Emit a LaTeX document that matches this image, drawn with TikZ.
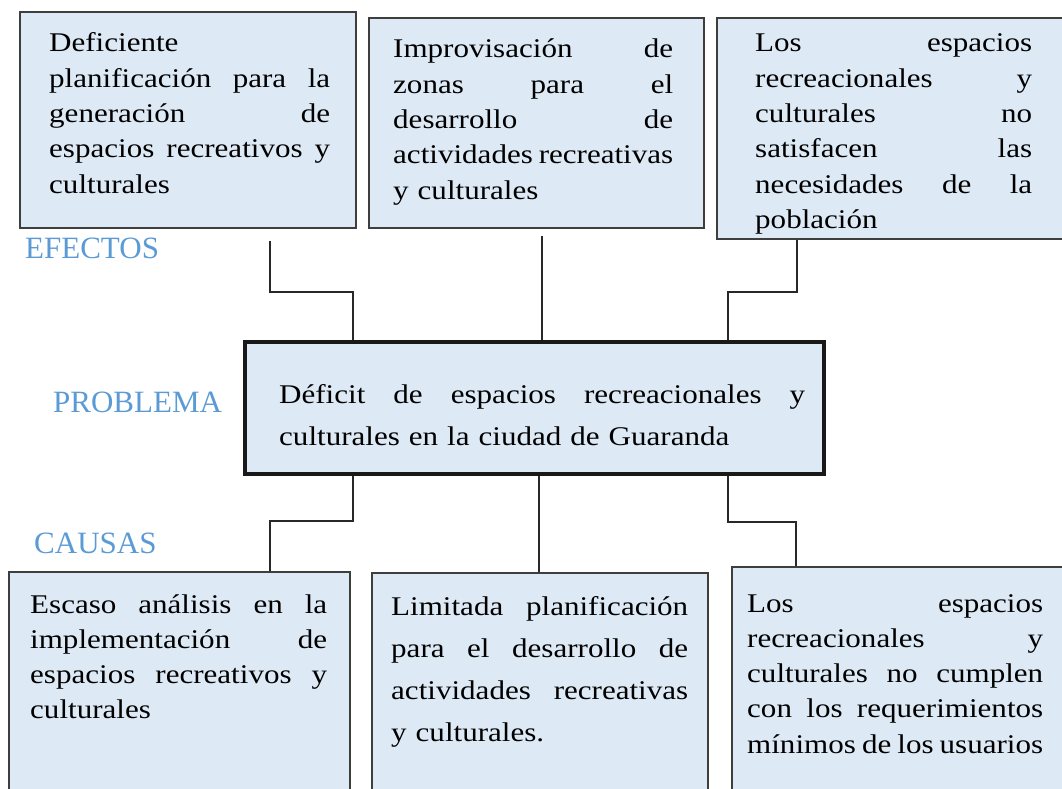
\documentclass[tikz,border=0pt]{standalone}
\usepackage{fontspec}
\setmainfont{Liberation Serif}
\newfontfamily\bfont[FakeStretch=1.15]{Liberation Serif}
\usetikzlibrary{calc}
\definecolor{boxfill}{RGB}{221,233,245}
\definecolor{boxline}{RGB}{62,62,62}
\definecolor{probline}{RGB}{25,25,25}
\definecolor{connline}{RGB}{40,40,40}
\definecolor{lblblue}{RGB}{91,155,213}
\newcommand\jl[1]{\makebox[\linewidth][s]{#1}}
\tikzset{
  ebox/.style={draw=boxline, line width=2.5pt, fill=boxfill, inner sep=0pt},
  pbox/.style={draw=probline, line width=3.2pt, fill=boxfill, inner sep=0pt},
  txt/.style={anchor=base west, inner sep=0pt, align=left},
  tfont/.style={font=\bfont\fontsize{27}{35.3}\selectfont},
  tfontw/.style={font=\bfont\fontsize{27}{42}\selectfont},
  lbl/.style={anchor=base west, inner sep=0pt, text=lblblue, font=\fontsize{31}{36}\selectfont},
  conn/.style={draw=connline, line width=1.5pt}
}
\begin{document}
\begin{tikzpicture}[x=1pt,y=-1pt]
\useasboundingbox (0,0) rectangle (1062,789);
\clip (0,0) rectangle (1062,789);
\fill[white] (0,0) rectangle (1062,789);

% effect boxes
\node[ebox, minimum width=336pt, minimum height=216pt] (E1) at (188,120) {};
\node[ebox, minimum width=335pt, minimum height=210pt] (E2) at (536.5,123) {};
\node[ebox, minimum width=358pt, minimum height=221pt] (E3) at (896,128.5) {};
% problem box
\node[pbox, minimum width=579pt, minimum height=132pt] (P) at (534.5,408) {};
% cause boxes
\node[ebox, minimum width=341pt, minimum height=228pt] (C1) at (179.5,686) {};
\node[ebox, minimum width=336pt, minimum height=227pt] (C2) at (540,686.5) {};
\node[ebox, minimum width=343pt, minimum height=233pt] (C3) at (903.5,683.5) {};

% texts
\node[txt, tfont, text width=281pt] (E1t) at (49,52) {Deficiente\\
\jl{planificación\hfill para\hfill la}\\
\jl{generación\hfill de}\\
\jl{espacios\hfill recreativos\hfill y}\\
culturales};
\node[txt, tfont, text width=280pt] (E2t) at (393,58) {\jl{Improvisación\hfill de}\\
\jl{zonas\hfill para\hfill el}\\
\jl{desarrollo\hfill de}\\
\jl{actividades\hfill recreativas}\\
y culturales};
\node[txt, tfont, text width=277pt] (E3t) at (755,52) {\jl{Los\hfill espacios}\\
\jl{recreacionales\hfill y}\\
\jl{culturales\hfill no}\\
\jl{satisfacen\hfill las}\\
\jl{necesidades\hfill de\hfill la}\\
población};
\node[txt, tfontw, text width=526pt] (Pt) at (279,403) {\jl{Déficit\hfill de\hfill espacios\hfill recreacionales\hfill y}\\
culturales en la ciudad de Guaranda};
\node[txt, tfont, text width=297pt] (C1t) at (30,613) {\jl{Escaso\hfill análisis\hfill en\hfill la}\\
\jl{implementación\hfill de}\\
\jl{espacios\hfill recreativos\hfill y}\\
culturales};
\node[txt, tfontw, text width=297pt] (C2t) at (391,615) {\jl{Limitada\hfill planificación}\\
\jl{para\hfill el\hfill desarrollo\hfill de}\\
\jl{actividades\hfill recreativas}\\
y culturales.};
\node[txt, tfont, text width=296pt] (C3t) at (747,612) {\jl{Los\hfill espacios}\\
\jl{recreacionales\hfill y}\\
\jl{culturales\hfill no\hfill cumplen}\\
\jl{con\hfill los\hfill requerimientos}\\
\jl{mínimos\hfill de\hfill los\hfill usuarios}};

% labels
\node[lbl] (EF) at (25,258) {EFECTOS};
\node[lbl] (PR) at (53,412) {PROBLEMA};
\node[lbl] (CA) at (34,553) {CAUSAS};

% connectors top
\coordinate (a1) at (270,292);
\coordinate (a2) at (353,292);
\draw[conn] ([yshift=-12pt]E1.south -| a1) -- (a1) -- (a2) -- (a2 |- P.north);
\coordinate (b1) at (542,235);
\draw[conn] ([yshift=-7pt]E2.south -| b1) -- (b1 |- P.north);
\coordinate (c1) at (797,292);
\coordinate (c2) at (728,292);
\draw[conn] (E3.south -| c1) -- (c1) -- (c2) -- (c2 |- P.north);

% connectors bottom
\coordinate (d1) at (353,521);
\coordinate (d2) at (270,521);
\draw[conn] (P.south -| d1) -- (d1) -- (d2) -- (d2 |- C1.north);
\coordinate (e1) at (539,500);
\draw[conn] (P.south -| e1) -- (e1 |- C2.north);
\coordinate (f1) at (728,522);
\coordinate (f2) at (796,522);
\draw[conn] (P.south -| f1) -- (f1) -- (f2) -- (f2 |- C3.north);
\end{tikzpicture}
\end{document}
